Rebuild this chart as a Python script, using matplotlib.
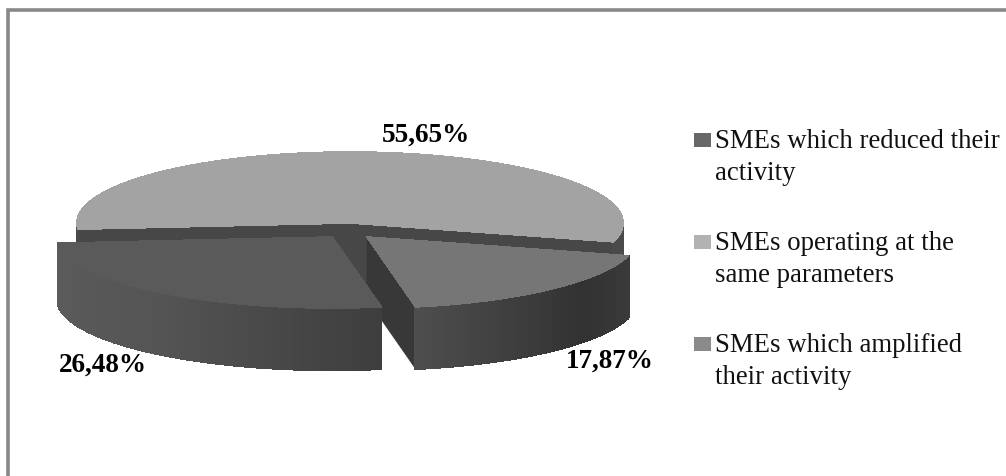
from matplotlib.collections import PolyCollection
from matplotlib.patches import Polygon, Rectangle
import matplotlib.pyplot as plt
import numpy as np

# ---- data ----
CATEGORIES = ["SMEs which reduced their\nactivity",
              "SMEs operating at the\nsame parameters",
              "SMEs which amplified\ntheir activity"]
SHARES = [26.48, 55.65, 17.87]
LABELS = ["26,48%", "55,65%", "17,87%"]

# ---- look ----
W, H = 1006, 476
START = 185.0            # slices run counter-clockwise from here
RADII = [(275, 71), (273, 71), (271, 71)]        # top ellipse radii per slice
DEPTH = 62               # pie thickness
CENTERS = [(332, 237), (350, 223), (367, 237)]   # exploded centres
TOP_COL = ["#5a5a5a", "#a3a3a3", "#767676"]
LEGEND_COL = ["#686868", "#b2b2b2", "#8a8a8a"]
WALL_COL = "#474747"
LABEL_XY = [(103, 372), (426, 142), (610, 368)]
LEGEND_Y = [148, 250, 352]
LINE_GAP = 32.5
SERIF = "Liberation Serif"


def rim(k, a0, a1, n=120):
    t = np.radians(np.linspace(a0, a1, n))
    cx, cy = CENTERS[k]
    rx, ry = RADII[k]
    return cx + rx * np.cos(t), cy - ry * np.sin(t)


def shade(t, stops):
    # t in 0..1, piecewise grey ramp for the curved walls
    xs, ys = zip(*stops)
    g = np.interp(t, xs, ys) / 255.0
    return (g, g, g)


def curved_wall(ax, k, a0, a1, stops, z):
    # curved outer wall, only the part facing the viewer, as thin strips
    x, y = rim(k, a0, a1)
    quads, cols = [], []
    for i in range(len(x) - 1):
        quads.append([(x[i], y[i]), (x[i + 1], y[i + 1]),
                      (x[i + 1], y[i + 1] + DEPTH), (x[i], y[i] + DEPTH)])
        cols.append(shade(i / (len(x) - 2), stops))
    ax.add_collection(PolyCollection(quads, facecolors=cols, edgecolors=cols,
                                     linewidths=1, antialiaseds=False, zorder=z))


def top_face(ax, k, a0, a1, z):
    x, y = rim(k, a0, a1)
    pts = [CENTERS[k]] + list(zip(x, y))
    ax.add_patch(Polygon(pts, closed=True, fc=TOP_COL[k], ec=TOP_COL[k], lw=0.5,
                         antialiased=False, zorder=z))


def radial_wall(ax, k, angle, color, z):
    x, y = rim(k, angle, angle, 2)
    cx, cy = CENTERS[k]
    pts = [(cx, cy), (x[0], y[0]), (x[0], y[0] + DEPTH), (cx, cy + DEPTH)]
    ax.add_patch(Polygon(pts, closed=True, fc=color, ec=color, lw=0.5, zorder=z))


fig = plt.figure(figsize=(W / 100, H / 100), dpi=100)
ax = fig.add_axes([0, 0, 1, 1])
ax.set_xlim(0, W)
ax.set_ylim(H, 0)
ax.axis("off")

# chart frame, only top and left are in the picture
ax.plot([8.5, 8.5, W], [H, 9.5, 9.5], color="#888888", lw=2.6, zorder=0,
        solid_joinstyle="miter", solid_capstyle="butt")

# slice angles from the shares
spans = np.array(SHARES) * 3.6
a_left = (START, START + spans[0])
a_right = (a_left[1], a_left[1] + spans[2])
a_light = (a_right[1], a_right[1] + spans[1])

# light slice at the back: inner walls, small bits of outer wall, top
radial_wall(ax, 1, a_light[0], WALL_COL, 1)
radial_wall(ax, 1, a_light[1], WALL_COL, 1)
curved_wall(ax, 1, a_light[0] - 360, 0, [(0, 74), (1, 74)], 1)
curved_wall(ax, 1, 180, a_light[1] - 360, [(0, 74), (1, 74)], 1)
top_face(ax, 1, a_light[0], a_light[1], 2)

# right slice
radial_wall(ax, 2, a_right[0], "#383838", 3)
curved_wall(ax, 2, a_right[0], a_right[1],
            [(0, 78), (0.3, 64), (0.65, 50), (1, 58)], 3)
top_face(ax, 2, a_right[0], a_right[1], 4)

# left slice goes on top of the gap
curved_wall(ax, 0, a_left[0], a_left[1],
            [(0, 92), (0.5, 84), (1, 62)], 5)
top_face(ax, 0, a_left[0], a_left[1], 6)

for (x, y), s in zip(LABEL_XY, LABELS):
    ax.text(x, y, s, family=SERIF, weight="bold", fontsize=19.5,
            ha="center", va="baseline", color="black", zorder=10)

for cat, col, y in zip(CATEGORIES, LEGEND_COL, LEGEND_Y):
    ax.add_patch(Rectangle((694, y - 15), 17, 14, fc=col, ec="none", zorder=10))
    for i, line in enumerate(cat.split("\n")):
        ax.text(715, y + i * LINE_GAP, line, family=SERIF, fontsize=19.3,
                ha="left", va="baseline", color="#111111", zorder=10)

fig.savefig("out.png", dpi=100)
